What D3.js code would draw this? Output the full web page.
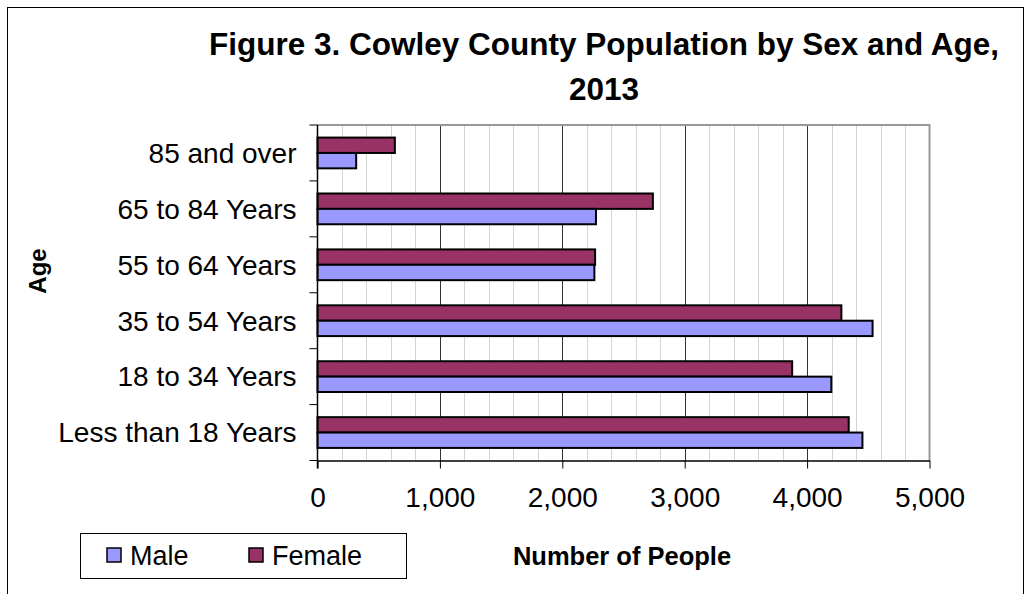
<!DOCTYPE html>
<html><head><meta charset="utf-8">
<script src="https://cdn.jsdelivr.net/npm/d3@7"></script>
<style>body{margin:0;background:#fff}svg{display:block}text{font-family:Arial,"Liberation Sans",sans-serif}</style>
</head><body>
<script>
const categories = ["85 and over","65 to 84 Years","55 to 64 Years","35 to 54 Years","18 to 34 Years","Less than 18 Years"];
const seriesNames = ["Female","Male"];
const female = [632, 2740, 2268, 4280, 3878, 4340];
const male = [316, 2275, 2262, 4535, 4198, 4452];
const xTicks = [0,1000,2000,3000,4000,5000];
const titleLines = ["Figure 3. Cowley County Population by Sex and Age,","2013"];
const colors = {Male:"#9999FF", Female:"#993366"};

const W=1031,H=594;
const svg=d3.select("body").append("svg").attr("width",W).attr("height",H);
svg.append("rect").attr("width",W).attr("height",H).attr("fill","#fff");
svg.append("rect").attr("x",7.5).attr("y",7.5).attr("width",1016).attr("height",620)
  .attr("fill","none").attr("stroke","#000").attr("stroke-width",1);

const L=317.5,R=929.5,T=125,B=460.5;
const x=d3.scaleLinear().domain([0,5000]).range([L,R]);
const y=d3.scaleBand().domain(categories).range([T,B]).paddingInner(0.45).paddingOuter(0.225);
const ys=d3.scaleBand().domain(seriesNames).range([0,y.bandwidth()]);

// minor grid
const g=svg.append("g");
g.selectAll("line.minor").data(d3.range(200,5000,200).filter(v=>v%1000!==0)).enter().append("line")
  .attr("x1",d=>Math.round(x(d))+0.5).attr("x2",d=>Math.round(x(d))+0.5).attr("y1",T).attr("y2",B)
  .attr("stroke","#d4d4d4").attr("stroke-width",1);
g.selectAll("line.major").data(xTicks.slice(1,-1)).enter().append("line")
  .attr("x1",d=>Math.round(x(d))+0.5).attr("x2",d=>Math.round(x(d))+0.5).attr("y1",T).attr("y2",B)
  .attr("stroke","#333").attr("stroke-width",1);
// plot border top/right gray
svg.append("path").attr("d",`M${L},${T}H${R}V${B}`).attr("fill","none").attr("stroke","#999").attr("stroke-width",2);

// bars
const rows=categories.map((c,i)=>({c,Female:female[i],Male:male[i]}));
const cg=svg.selectAll("g.cat").data(rows).enter().append("g").attr("transform",d=>`translate(0,${y(d.c)})`);
cg.selectAll("rect").data(d=>seriesNames.map(s=>({s,v:d[s]}))).enter().append("rect")
  .attr("x",x(0)).attr("y",d=>ys(d.s)).attr("width",d=>x(d.v)-x(0)).attr("height",ys.bandwidth())
  .attr("fill",d=>colors[d.s]).attr("stroke","#000").attr("stroke-width",2);

// x axis
const xa=svg.append("g").attr("transform",`translate(0,${B})`)
  .call(d3.axisBottom(x).tickValues(xTicks).tickFormat(d3.format(",")).tickSizeInner(8).tickSizeOuter(0).tickPadding(19));
xa.select(".domain").attr("stroke","#000").attr("stroke-width",1.5);
xa.selectAll(".tick line").attr("stroke","#000");
xa.selectAll("text").attr("font-size",28).attr("fill","#000");

// y axis
const ya=svg.append("g").attr("transform",`translate(${L},0)`);
ya.append("line").attr("x1",0).attr("x2",0).attr("y1",T).attr("y2",B+8).attr("stroke","#000").attr("stroke-width",1.5);
const bounds=categories.map(c=>y(c)-y.step()*y.paddingOuter()).concat([B]);
ya.selectAll("line.t").data(bounds).enter().append("line").attr("x1",-8).attr("x2",0)
  .attr("y1",d=>d).attr("y2",d=>d).attr("stroke","#000");
ya.selectAll("text").data(categories).enter().append("text")
  .attr("x",-21).attr("y",d=>y(d)+y.bandwidth()/2).attr("dy","0.35em").attr("text-anchor","end")
  .attr("font-size",28).text(d=>d);

// title
svg.append("text").attr("text-anchor","middle").attr("font-weight","bold").attr("font-size",31.5)
  .selectAll("tspan").data(titleLines).enter().append("tspan").attr("x",604).attr("y",(d,i)=>55+i*45).text(d=>d);

// axis titles
svg.append("text").attr("x",622).attr("y",565).attr("text-anchor","middle").attr("font-weight","bold").attr("font-size",25.5).text("Number of People");
svg.append("text").attr("transform","translate(46,271) rotate(-90)").attr("text-anchor","middle").attr("font-weight","bold").attr("font-size",24).text("Age");

// legend
const lg=svg.append("g");
lg.append("rect").attr("x",80.5).attr("y",533.5).attr("width",326).attr("height",45).attr("fill","#fff").attr("stroke","#000");
const items=[{s:"Male",x:107},{s:"Female",x:249}];
const li=lg.selectAll("g").data(items).enter().append("g").attr("transform",d=>`translate(${d.x},548)`);
li.append("rect").attr("width",14).attr("height",14).attr("fill",d=>colors[d.s]).attr("stroke","#000").attr("stroke-width",1.5);
li.append("text").attr("x",23).attr("y",17).attr("font-size",27).text(d=>d.s);
</script>
</body></html>
